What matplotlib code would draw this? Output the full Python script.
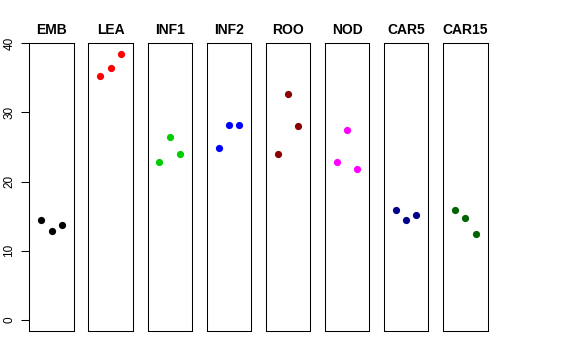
import matplotlib
matplotlib.use("Agg")
import matplotlib.pyplot as plt

plt.rcParams['font.family'] = ['Liberation Sans', 'DejaVu Sans']

groups = ["EMB", "LEA", "INF1", "INF2", "ROO", "NOD", "CAR5", "CAR15"]
colors = ["black", "red", "#00CD00", "blue", "#8B0000", "magenta", "#00008B", "#006400"]
values = [
    [14.4, 12.9, 13.7],
    [35.2, 36.5, 38.5],
    [22.9, 26.4, 24.0],
    [24.9, 28.2, 28.2],
    [24.0, 32.7, 28.0],
    [22.8, 27.5, 21.8],
    [15.9, 14.4, 15.2],
    [15.9, 14.8, 12.4],
]
reps = [1, 2, 3]
yticks = [0, 10, 20, 30, 40]

W, H = 576, 360
fig = plt.figure(figsize=(W / 100, H / 100), dpi=100)

left0 = 29.3
pw = 44.5
step = 59.1
top = 43.3
bottom = 331.0

for i, (g, c, v) in enumerate(zip(groups, colors, values)):
    x0 = left0 + i * step
    ax = fig.add_axes([x0 / W, 1 - bottom / H, pw / W, (bottom - top) / H])
    ax.plot(reps, v, 'o', color=c, markersize=5.2, markeredgewidth=0)
    ax.set_xlim(-0.15, 4.15)
    ax.set_ylim(-1.6, 40)
    ax.set_xticks([])
    ax.set_title(g, fontsize=10, fontweight='bold', pad=7)
    for s in ax.spines.values():
        s.set_linewidth(0.75)
    if i == 0:
        ax.set_yticks(yticks)
        ax.set_yticklabels([str(t) for t in yticks], rotation=90, va='center', fontsize=8.5)
        ax.tick_params(axis='y', length=6, width=0.75, pad=4)
    else:
        ax.set_yticks([])

fig.savefig("out.png", dpi=100)
